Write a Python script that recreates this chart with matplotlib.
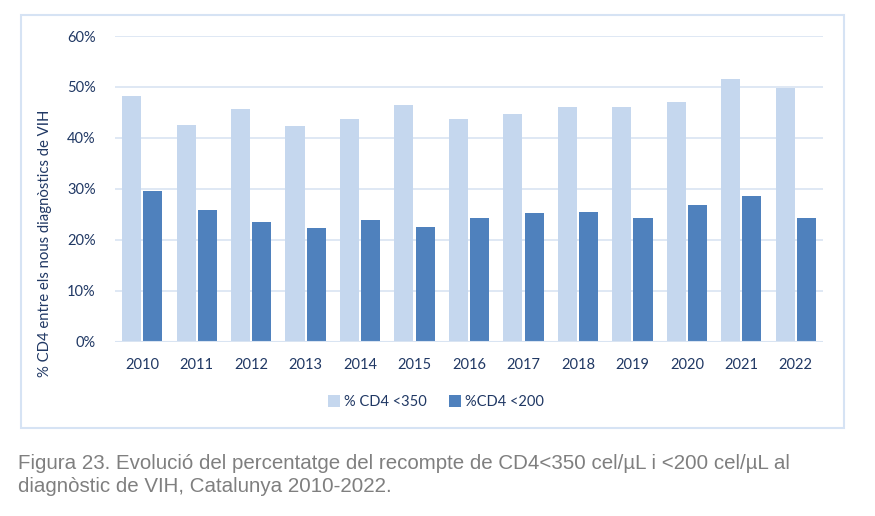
import matplotlib
matplotlib.use("Agg")
import matplotlib.pyplot as plt
from matplotlib.patches import Rectangle
import numpy as np

years = ["2010", "2011", "2012", "2013", "2014", "2015", "2016",
         "2017", "2018", "2019", "2020", "2021", "2022"]
cd4_350 = [48.2, 42.5, 45.7, 42.3, 43.7, 46.4, 43.7, 44.6, 46.0, 46.1, 47.0, 51.6, 49.7]
cd4_200 = [29.5, 25.8, 23.5, 22.3, 23.9, 22.6, 24.2, 25.3, 25.4, 24.3, 26.9, 28.6, 24.2]
series_labels = ["% CD4 <350", "%CD4 <200"]
y_ticks = [0, 10, 20, 30, 40, 50, 60]
y_label = "% CD4 entre els nous diagnòstics de VIH"
caption = ("Figura 23. Evolució del percentatge del recompte de CD4<350 cel/µL i <200 cel/µL al\n"
           "diagnòstic de VIH, Catalunya 2010-2022.")

light = "#c5d7ee"
dark = "#4f81bd"
text_col = "#203864"
grid_col = "#d9e4f2"

W, H = 875, 516
fig = plt.figure(figsize=(W / 100, H / 100), dpi=100)
fig.patch.set_facecolor("white")

# chart border box
fig.patches.append(Rectangle((21 / W, 1 - 428 / H), (844 - 21) / W, (428 - 15) / H,
                             transform=fig.transFigure, fill=False,
                             edgecolor="#d6e3f4", linewidth=1.5))

ax = fig.add_axes([115 / W, 1 - 341.7 / H, (823 - 115) / W, (341.7 - 36) / H])
x = np.arange(len(years))
bw = 0.35
ax.bar(x - 0.195, cd4_350, width=bw, color=light, label=series_labels[0], zorder=3)
ax.bar(x + 0.195, cd4_200, width=bw, color=dark, label=series_labels[1], zorder=3)

ax.set_xlim(-0.5, len(years) - 0.5)
ax.set_ylim(0, 60)
ax.set_yticks(y_ticks)
ax.set_yticklabels([f"{v}%" for v in y_ticks])
ax.set_xticks(x)
ax.set_xticklabels(years)
for s in ax.spines.values():
    s.set_visible(False)
ax.yaxis.grid(True, color=grid_col, linewidth=1.2, zorder=0)
ax.axhline(0, color=grid_col, linewidth=1.5, zorder=4)
ax.tick_params(axis="both", length=0, labelsize=10.5, labelcolor=text_col)
ax.tick_params(axis="y", pad=14)
ax.tick_params(axis="x", pad=12)
for lab in ax.get_xticklabels() + ax.get_yticklabels():
    lab.set_fontfamily("Lato")

fig.text(45 / W, 1 - 243 / H, y_label, rotation=90, ha="center", va="center",
         color=text_col, fontsize=10.7, family="Lato")

leg = fig.legend(loc="center", bbox_to_anchor=(436 / W, 1 - 402 / H), ncol=2,
                 frameon=False, prop={"family": "Lato", "size": 10.5},
                 handlelength=0.8, handleheight=0.8, handletextpad=0.3,
                 columnspacing=1.5)
for t in leg.get_texts():
    t.set_color(text_col)

fig.text(18 / W, 1 - 475 / H, caption, ha="left", va="center", color="#7f7f7f",
         fontsize=14.8, family="Liberation Sans", linespacing=1.32)

fig.savefig("out.png", dpi=100)
